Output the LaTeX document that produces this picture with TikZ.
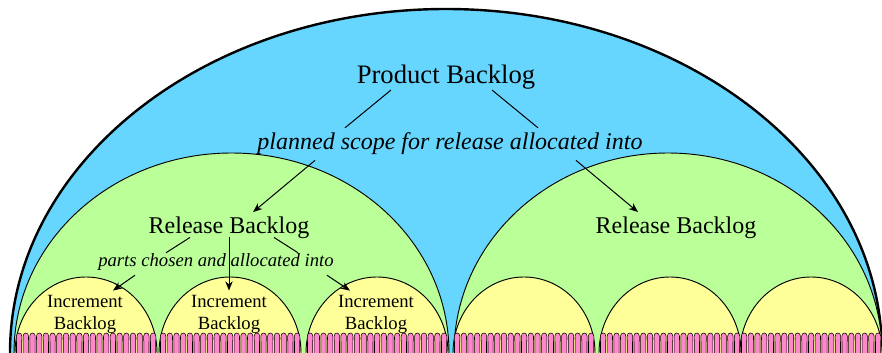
\documentclass[tikz,border=0pt]{standalone}
\usepackage{fontspec}
\setmainfont{Liberation Serif}
\usetikzlibrary{arrows.meta}
\definecolor{blueBg}{RGB}{102,214,255}
\definecolor{greenBg}{RGB}{187,255,153}
\definecolor{yellowBg}{RGB}{255,255,153}
\definecolor{pinkBg}{RGB}{255,136,204}
\begin{document}
\begin{tikzpicture}[x=0.75pt, y=0.75pt, >={Stealth[length=7pt,width=5.5pt]},
  dome/.style={draw=black, line width=0.7pt},
  tooth/.style={draw=black, line width=0.4pt, fill=pinkBg},
  lbl/.style={inner sep=0pt, anchor=base},
  inc/.style={inner sep=0pt, align=center, font=\fontsize{14}{16.5}\selectfont},
  link/.style={line width=0.75pt}]
\clip (0,0) rectangle (882,353);
\draw [dome, fill=blueBg, line width=1.8pt](10,0) arc[start angle=180, end angle=0, x radius=436, y radius=344];
\draw [dome, fill=greenBg](14,0) arc[start angle=180, end angle=0, x radius=217.5, y radius=200];
\draw [dome, fill=greenBg](454,0) arc[start angle=180, end angle=0, x radius=214, y radius=200];
\foreach \cx in {86,230,377,524,670,811}{
  \draw [dome, fill=yellowBg](\cx-71,0) arc[start angle=180, end angle=0, x radius=71, y radius=76];
  \foreach \i in {0,...,20}
    \draw [tooth](\cx-69.5+\i*6.7,-1) -- ++(0,12) to[out=90,in=180] ++(2.6,9) to[out=0,in=90] ++(2.6,-9) -- ++(0,-12);
}

\node [lbl, font=\fontsize{20}{24}\selectfont] (product) at (446,269) {Product Backlog};
\node [lbl, font=\fontsize{18}{22}\selectfont\itshape] (planned) at (450,203) {planned scope for release allocated into};
\node [lbl, font=\fontsize{18}{22}\selectfont] (relL) at (229,119) {Release Backlog};
\node [lbl, font=\fontsize{18}{22}\selectfont] (relR) at (676,119) {Release Backlog};
\node [lbl, font=\fontsize{14}{17}\selectfont\itshape] (parts) at (216,86) {parts chosen and allocated into};
\node [inc] (incA) at (85,39) {Increment\\Backlog};
\node [inc] (incB) at (229,39) {Increment\\Backlog};
\node [inc] (incC) at (376,39) {Increment\\Backlog};

\draw [link]([shift={(-55,0)}]product.south) -- ([shift={(-105,5)}]planned.north);
\draw [link]([shift={(46,0)}]product.south) -- ([shift={(88,5)}]planned.north);
\draw [link,->]([shift={(-135,-5)}]planned.south) -- ([shift={(24,5)}]relL.north);
\draw [link,->]([shift={(126,-5)}]planned.south) -- ([shift={(-38,5)}]relR.north);

\draw [link]([shift={(-39,2)}]relL.south) -- ([shift={(-50,1)}]parts.north);
\draw [link]([shift={(45,2)}]relL.south) -- ([shift={(82,1)}]parts.north);
\draw [link,->]([shift={(0,2)}]relL.south) -- ([shift={(0,4)}]incB.north);
\draw [link,->]([shift={(-81,-4)}]parts.south) -- ([shift={(28,4)}]incA.north);
\draw [link,->]([shift={(111,-4)}]parts.south) -- ([shift={(-26,4)}]incC.north);
\end{tikzpicture}
\end{document}
